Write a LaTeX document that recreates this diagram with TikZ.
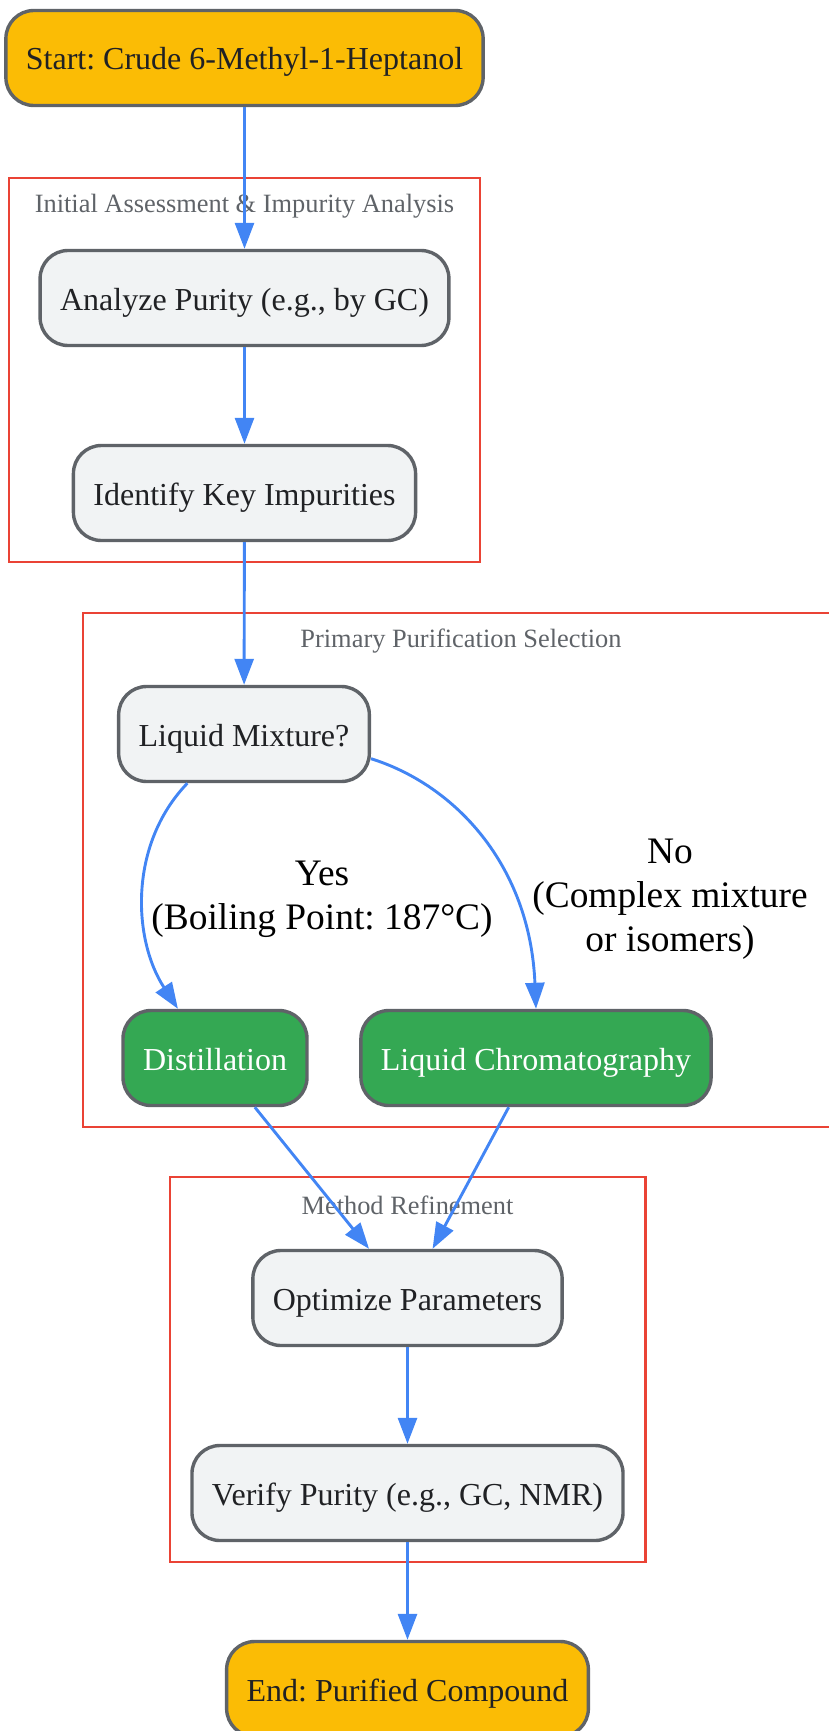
\documentclass[tikz,border=0pt]{standalone}
\usepackage{fontspec}
\setmainfont{Liberation Serif}
\usetikzlibrary{arrows.meta,positioning}
\definecolor{startfill}{HTML}{FBBC05}
\definecolor{procfill}{HTML}{F1F3F4}
\definecolor{methodfill}{HTML}{34A853}
\definecolor{edgeline}{HTML}{4285F4}
\definecolor{clusterline}{HTML}{EA4335}
\definecolor{boxline}{HTML}{5F6368}
\definecolor{inktext}{HTML}{202124}
\frenchspacing
\newcommand{\boxfont}{\fontsize{32}{38}\selectfont}
\newcommand{\clusterfont}{\fontsize{26.4}{32}\selectfont}
\newcommand{\edgefont}{\fontsize{37.4}{44}\selectfont}

\begin{document}
\begin{tikzpicture}[x=1pt, y=1pt, >={Triangle[length=26pt,width=19pt]},
    box/.style={draw=boxline, line width=3.4pt, rounded corners=28pt, minimum height=95pt,
        inner xsep=20pt, text height=30pt, text depth=6pt, font=\boxfont, text=inktext, fill=procfill},
    terminal/.style={box, fill=startfill},
    method/.style={box, fill=methodfill, text=white},
    flow/.style={->, line width=2.9pt, edgeline},
    cluster/.style={draw=clusterline, line width=2.6pt},
    clusterlabel/.style={font=\clusterfont, text=boxline},
    edgelabel/.style={font=\edgefont, align=center}]
    \useasboundingbox (0,0) rectangle (828,-1731);

    % Clusters
    \draw[cluster] (9,-178) rectangle (480,-562);
    \node[clusterlabel] (lblinit) at (244.5,-205.7) {Initial Assessment \& Impurity Analysis};
    \draw[cluster] (83,-613) rectangle (840,-1127);
    \node[clusterlabel] (lblprim) at (461,-640.7) {Primary Purification Selection};
    \draw[cluster] (170,-1177) rectangle (645.5,-1562);
    \node[clusterlabel] (lblrefine) at (407.5,-1205.5) {Method Refinement};

    % Nodes
    \node[terminal] (start) at (244.5,-58) {Start: Crude 6-Methyl-1-Heptanol};
    \node[box] (analyze) at (244.5,-298) {Analyze Purity (e.g., by GC)};
    \node[box] (identify) at (244.5,-493) {Identify Key Impurities};
    \node[box] (liquid) at (244,-734) {Liquid Mixture?};
    \node[method] (distill) at (215,-1058) {Distillation};
    \node[method] (chrom) at (536,-1058) {Liquid Chromatography};
    \node[box] (optimize) at (407.5,-1298) {Optimize Parameters};
    \node[box] (verify) at (407.5,-1493) {Verify Purity (e.g., GC, NMR)};
    \node[terminal] (finish) at (407.5,-1689) {End: Purified Compound};

    % Edge labels
    \node[edgelabel] (yeslbl) at (322,-899) {Yes\\(Boiling Point: 187°C)};
    \node[edgelabel] (nolbl) at (670,-899) {No\\(Complex mixture\\or isomers)};

    % Connectors
    \draw[flow] (start) -- (analyze);
    \draw[flow] (analyze) -- (identify);
    \draw[flow] (identify) -- (liquid);
    \draw[flow] (liquid.221) .. controls (128,-845) and (133,-940) .. (distill.127);
    \draw[flow] (liquid.-11) .. controls (455,-785) and (530,-865) .. (chrom.north);
    \draw[flow] (distill.-51) -- (optimize.128);
    \draw[flow] (chrom.241) -- (optimize.63);
    \draw[flow] (optimize) -- (verify);
    \draw[flow] (verify) -- (finish);
\end{tikzpicture}
\end{document}
